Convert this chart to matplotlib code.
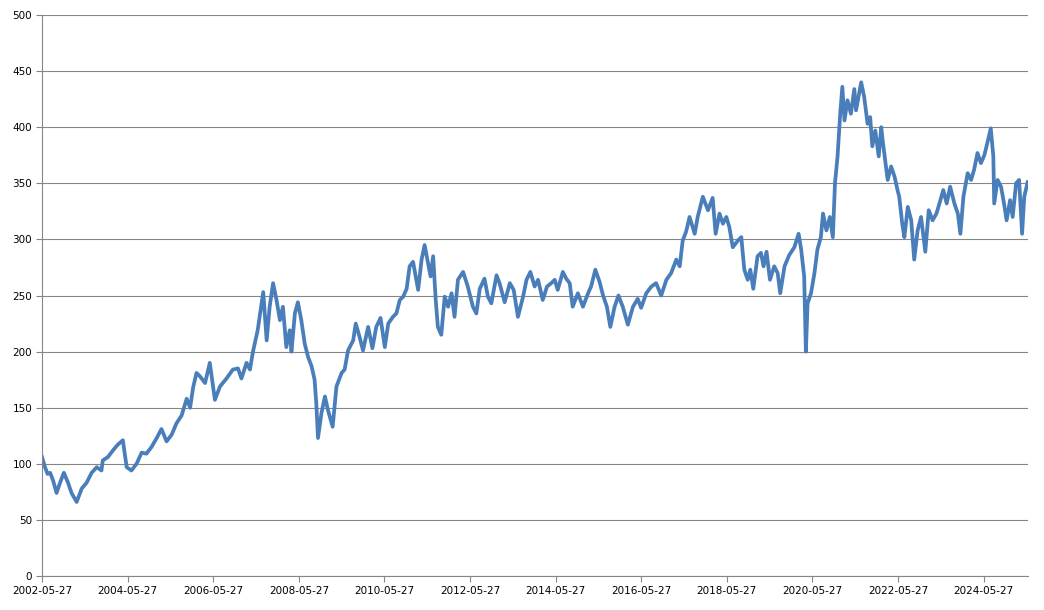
import numpy as np
import pandas as pd
import matplotlib
matplotlib.use("Agg")
import matplotlib.pyplot as plt
import matplotlib.dates as mdates

# dates as decimal years
anos = [
    2002.40, 2002.47, 2002.53, 2002.59, 2002.66, 2002.74, 2002.82, 2002.91, 2003.01, 2003.09,
    2003.21, 2003.33, 2003.44, 2003.56, 2003.68, 2003.79, 2003.82, 2003.94, 2004.06, 2004.17,
    2004.29, 2004.38, 2004.49, 2004.61, 2004.73, 2004.84, 2004.96, 2005.08, 2005.19, 2005.31,
    2005.43, 2005.54, 2005.66, 2005.78, 2005.86, 2005.93, 2006.01, 2006.09, 2006.21, 2006.32,
    2006.44, 2006.56, 2006.71, 2006.86, 2006.98, 2007.06, 2007.18, 2007.26, 2007.33, 2007.44,
    2007.53, 2007.57, 2007.65, 2007.72, 2007.80, 2007.88, 2007.96, 2008.03, 2008.11, 2008.19,
    2008.23, 2008.31, 2008.38, 2008.46, 2008.54, 2008.62, 2008.70, 2008.77, 2008.81, 2008.85,
    2008.93, 2009.01, 2009.08, 2009.19, 2009.28, 2009.40, 2009.47, 2009.55, 2009.67, 2009.73,
    2009.82, 2009.90, 2010.02, 2010.12, 2010.21, 2010.31, 2010.41, 2010.49, 2010.60, 2010.68,
    2010.76, 2010.84, 2010.92, 2010.99, 2011.07, 2011.19, 2011.27, 2011.34, 2011.42, 2011.48,
    2011.54, 2011.60, 2011.65, 2011.73, 2011.81, 2011.89, 2011.97, 2012.04, 2012.12, 2012.24,
    2012.35, 2012.47, 2012.55, 2012.63, 2012.74, 2012.82, 2012.90, 2013.02, 2013.09, 2013.21,
    2013.33, 2013.42, 2013.52, 2013.56, 2013.64, 2013.72, 2013.81, 2013.91, 2013.99, 2014.10,
    2014.20, 2014.30, 2014.38, 2014.45, 2014.57, 2014.65, 2014.73, 2014.80, 2014.92, 2015.04,
    2015.16, 2015.23, 2015.33, 2015.43, 2015.51, 2015.60, 2015.68, 2015.78, 2015.87, 2015.97,
    2016.09, 2016.21, 2016.32, 2016.40, 2016.52, 2016.64, 2016.75, 2016.87, 2016.99, 2017.10,
    2017.22, 2017.30, 2017.37, 2017.45, 2017.53, 2017.65, 2017.72, 2017.84, 2017.96, 2018.07,
    2018.14, 2018.23, 2018.31, 2018.39, 2018.46, 2018.54, 2018.66, 2018.74, 2018.81, 2018.89,
    2018.95, 2019.02, 2019.12, 2019.20, 2019.26, 2019.33, 2019.41, 2019.51, 2019.59, 2019.65,
    2019.75, 2019.86, 2019.98, 2020.08, 2020.14, 2020.21, 2020.25, 2020.29, 2020.37, 2020.45,
    2020.52, 2020.60, 2020.65, 2020.73, 2020.81, 2020.88, 2020.93, 2020.99, 2021.05, 2021.10,
    2021.15, 2021.22, 2021.30, 2021.38, 2021.42, 2021.54, 2021.61, 2021.69, 2021.75, 2021.80,
    2021.87, 2021.95, 2022.01, 2022.04, 2022.11, 2022.16, 2022.24, 2022.32, 2022.39, 2022.43,
    2022.50, 2022.55, 2022.63, 2022.71, 2022.78, 2022.86, 2022.94, 2023.04, 2023.12, 2023.21,
    2023.30, 2023.37, 2023.46, 2023.54, 2023.62, 2023.72, 2023.80, 2023.86, 2023.93, 2024.03,
    2024.11, 2024.18, 2024.26, 2024.34, 2024.42, 2024.49, 2024.57, 2024.63, 2024.65, 2024.73,
    2024.81, 2024.88, 2024.94, 2025.02, 2025.08, 2025.16, 2025.23, 2025.30, 2025.35, 2025.43,
]
valores = [
    106, 97, 91, 92, 85, 74, 83, 92, 83, 74,
    66, 78, 83, 92, 97, 94, 103, 106, 112, 117,
    121, 97, 94, 100, 110, 109, 115, 123, 131, 120,
    126, 136, 143, 158, 150, 168, 181, 178, 172, 190,
    157, 169, 176, 184, 185, 176, 190, 184, 200, 219,
    243, 253, 210, 240, 261, 246, 228, 240, 204, 219,
    200, 234, 244, 228, 207, 195, 187, 175, 154, 123,
    145, 160, 148, 133, 169, 181, 184, 201, 210, 225,
    213, 201, 222, 203, 222, 230, 204, 225, 231, 234,
    246, 249, 256, 276, 280, 255, 282, 295, 279, 267,
    285, 246, 222, 215, 249, 240, 252, 231, 264, 271,
    258, 240, 234, 256, 265, 249, 243, 268, 261, 244,
    261, 255, 231, 237, 249, 264, 271, 258, 264, 246,
    258, 261, 264, 255, 271, 265, 261, 240, 252, 240,
    252, 258, 273, 262, 250, 240, 222, 240, 250, 240,
    224, 240, 247, 239, 252, 258, 261, 250, 264, 270,
    282, 276, 299, 307, 320, 305, 320, 338, 326, 337,
    305, 323, 314, 320, 311, 293, 299, 302, 273, 264,
    273, 256, 285, 288, 276, 289, 264, 276, 270, 252,
    276, 286, 293, 305, 291, 267, 200, 243, 252, 270,
    291, 302, 323, 308, 320, 302, 350, 374, 412, 436,
    406, 424, 412, 434, 415, 440, 427, 403, 409, 383,
    397, 374, 400, 389, 368, 353, 365, 356, 344, 338,
    314, 302, 329, 317, 282, 308, 320, 289, 326, 317,
    323, 332, 344, 332, 347, 332, 323, 305, 338, 359,
    353, 362, 377, 368, 375, 386, 399, 374, 332, 353,
    347, 332, 317, 335, 320, 350, 353, 305, 338, 351,
]

ticks_x = ['2002-05-27', '2004-05-27', '2006-05-27', '2008-05-27', '2010-05-27', '2012-05-27',
           '2014-05-27', '2016-05-27', '2018-05-27', '2020-05-27', '2022-05-27', '2024-05-27']
ticks_y = list(range(0, 501, 50))


def ano_para_data(a):
    base = pd.Timestamp(f'{int(a)}-01-01')
    return base + pd.Timedelta(days=(a - int(a)) * 365.25)


datas = [ano_para_data(a) for a in anos]

cinza = '#868686'
fig = plt.figure(figsize=(10.44, 6.10), dpi=100)
ax = fig.add_axes([42 / 1044, 1 - 576 / 610, (1028 - 42) / 1044, (576 - 15) / 610])

ax.plot(datas, valores, color='#4A7EBB', linewidth=2.7, solid_joinstyle='round')

ax.set_ylim(0, 500)
ax.set_yticks(ticks_y)
ax.set_xlim(pd.Timestamp('2002-05-27'), pd.Timestamp('2025-06-10'))
ax.set_xticks([pd.Timestamp(t) for t in ticks_x])
ax.xaxis.set_major_formatter(mdates.DateFormatter('%Y-%m-%d'))

ax.grid(axis='y', color=cinza, linewidth=0.8)
ax.set_axisbelow(True)
for s in ['top', 'right']:
    ax.spines[s].set_visible(False)
for s in ['left', 'bottom']:
    ax.spines[s].set_color(cinza)
    ax.spines[s].set_linewidth(0.8)
ax.tick_params(axis='both', colors=cinza, length=4, width=0.8, labelsize=7.5,
               labelcolor='black', pad=3)

fig.savefig('out.png', dpi=100)
